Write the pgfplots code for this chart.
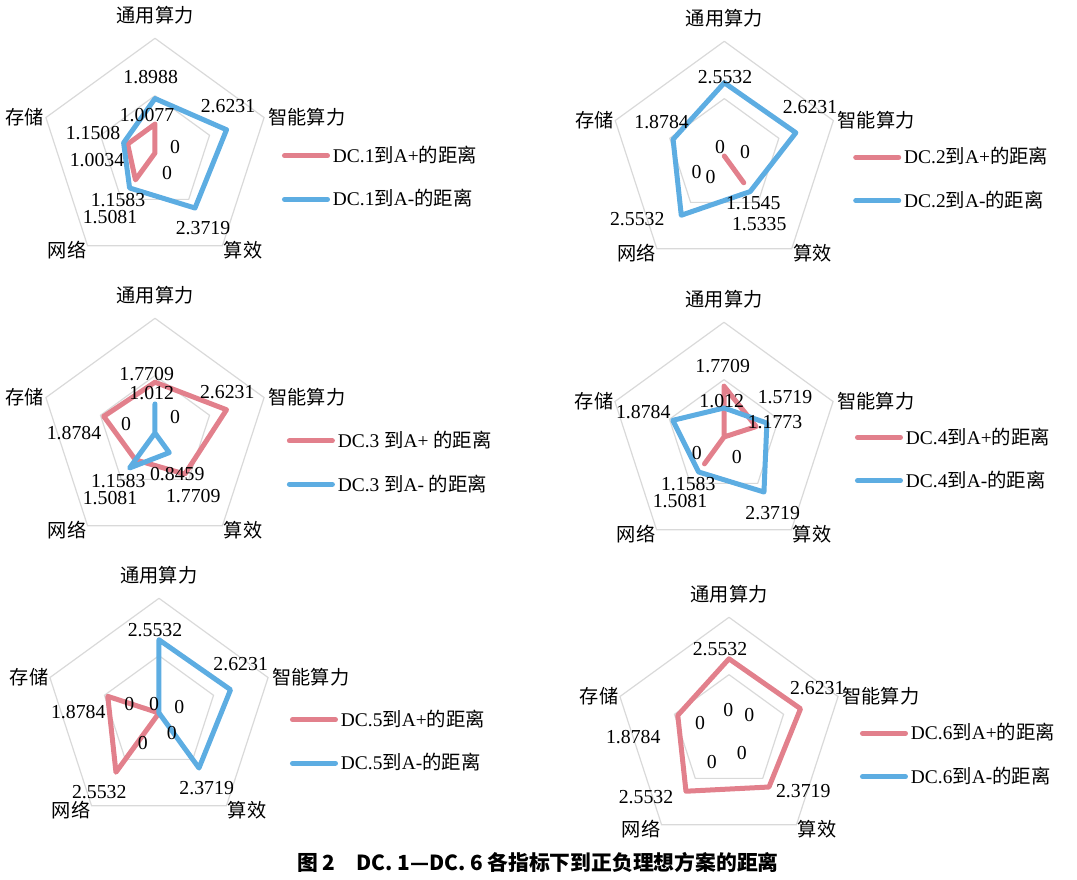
\documentclass[border=0pt]{standalone}
\usepackage{fontspec}
\setmainfont{Liberation Serif}
\newfontfamily\cjk{Noto Sans CJK SC}
\usepackage{pgfplots}
\pgfplotsset{compat=1.18}
\usepgfplotslibrary{polar}
\definecolor{pinkc}{RGB}{226,128,140}
\definecolor{bluec}{RGB}{93,173,226}
\definecolor{gridc}{RGB}{217,217,217}
\newcommand\fs{\fontsize{9.6}{11}\selectfont}
\newcommand\fn{\fontsize{9.9}{11}\selectfont}
\newcommand\fl{\fontsize{9.7}{11}\selectfont}
\newcommand\setc[2]{\def\cx{#1}\def\cy{#2}}
% data label: dx dy (px, y down) text
\newcommand\lab[3]{\node[font=\fn, inner sep=0pt] at ({(\cx+(#1))*0.5},{(879-\cy-(#2))*0.5}) {#3};}
\newcommand\cats{%
  \node[font=\fs\cjk, inner sep=0pt] at ({\cx*0.5},{(879-\cy+138)*0.5}) {通用算力};
  \node[font=\fs\cjk, inner sep=0pt, anchor=west] at ({(\cx+113)*0.5},{(879-\cy+36)*0.5}) {智能算力};
  \node[font=\fs\cjk, inner sep=0pt] at ({(\cx+88)*0.5},{(879-\cy-97)*0.5}) {算效};
  \node[font=\fs\cjk, inner sep=0pt] at ({(\cx-88)*0.5},{(879-\cy-97)*0.5}) {网络};
  \node[font=\fs\cjk, inner sep=0pt] at ({(\cx-130)*0.5},{(879-\cy+36)*0.5}) {存储};
}
\pgfplotsset{
  radar/.style={
    at={({\cx*0.5pt},{(879-\cy)*0.5pt})}, anchor=center,
    scale only axis, width=114.7pt, height=114.7pt,
    ymin=0, ymax=4, xmin=0, xmax=360,
    hide axis, clip=false, xtick=\empty, ytick=\empty,
    legend style={draw=none, fill=none, inner sep=0pt, outer sep=0pt, anchor=west,
      font=\fl, row sep=9pt, nodes={inner sep=1.5pt}},
    legend image code/.code={\draw[##1,line cap=round] (0pt,0pt) -- (21.5pt,0pt);},
    legend cell align=left,
  },
  pk/.style={pinkc, line width=2.5pt, line join=round, line cap=round},
  bl/.style={bluec, line width=2.5pt, line join=round, line cap=round},
  gr/.style={gridc, line width=0.6pt, forget plot},
}
\newcommand\grid{%
  \addplot[gr] coordinates {(90,2) (18,2) (306,2) (234,2) (162,2) (90,2)};
  \addplot[gr] coordinates {(90,4) (18,4) (306,4) (234,4) (162,4) (90,4)};
}
\begin{document}
\begin{tikzpicture}[x=1pt,y=1pt]
\path[use as bounding box] (0,0) rectangle (538.5,439.5);
% ---------------- DC.1
\setc{155}{153}
\begin{polaraxis}[radar, legend style={at={(axis description cs:1.0536,0.393)}}]
\grid
\addplot[pk] coordinates {(90,1.0077) (18,0) (306,0) (234,1.1583) (162,1.0034) (90,1.0077)};
\addplot[bl] coordinates {(90,1.8988) (18,2.6231) (306,2.3719) (234,1.5081) (162,1.1508) (90,1.8988)};
\legend{DC.1{\cjk 到}A+{\cjk 的距离}, DC.1{\cjk 到}A-{\cjk 的距离}}
\end{polaraxis}
\cats
\lab{-4.3}{-75.7}{1.8988}
\lab{73}{-47}{2.6231}
\lab{-8}{-38}{1.0077}
\lab{20}{-6}{0}
\lab{12}{20}{0}
\lab{-62}{-20}{1.1508}
\lab{-58}{7}{1.0034}
\lab{-37}{47}{1.1583}
\lab{-45}{64}{1.5081}
\lab{48}{75}{2.3719}
% ---------------- DC.2
\setc{724.3}{156}
\begin{polaraxis}[radar, legend style={at={(axis description cs:1.062,0.40)}}]
\grid
\addplot[pk] coordinates {(90,0) (18,0) (306,1.1545) (234,0) (162,0) (90,0)};
\addplot[bl] coordinates {(90,2.5532) (18,2.6231) (306,1.5335) (234,2.5532) (162,1.8784) (90,2.5532)};
\legend{DC.2{\cjk 到}A+{\cjk 的距离}, DC.2{\cjk 到}A-{\cjk 的距离}}
\end{polaraxis}
\cats
\lab{0.7}{-78.7}{2.5532}
\lab{85.7}{-48.7}{2.6231}
\lab{-62.7}{-34.3}{1.8784}
\lab{-4.3}{-9.3}{0}
\lab{20.7}{-4.3}{0}
\lab{-27.7}{15.7}{0}
\lab{-13.7}{20.7}{0}
\lab{29}{46.7}{1.1545}
\lab{35}{68}{1.5335}
\lab{-87}{63.3}{2.5532}
% ---------------- DC.3
\setc{155}{433}
\begin{polaraxis}[radar, legend style={at={(axis description cs:1.075,0.371)}}]
\grid
\addplot[pk] coordinates {(90,1.7709) (18,2.6231) (306,1.7709) (234,1.1583) (162,1.8784) (90,1.7709)};
\addplot[bl] coordinates {(90,1.012) (18,0) (306,0.8459) (234,1.5081) (162,0) (90,1.012)};
\legend{DC.3 {\cjk 到}A+ {\cjk 的距离}, DC.3 {\cjk 到}A- {\cjk 的距离}}
\end{polaraxis}
\cats
\lab{-8.3}{-58.7}{1.7709}
\lab{-3.3}{-39.7}{1.012}
\lab{72.3}{-41.3}{2.6231}
\lab{20}{-15.7}{0}
\lab{-29}{-9}{0}
\lab{-81}{-0.3}{1.8784}
\lab{22.3}{41}{0.8459}
\lab{-36.7}{47.7}{1.1583}
\lab{-45}{65.3}{1.5081}
\lab{38.3}{63}{1.7709}
% ---------------- DC.4
\setc{724}{437}
\begin{polaraxis}[radar, legend style={at={(axis description cs:1.071,0.404)}}]
\grid
\addplot[pk] coordinates {(90,1.7709) (18,1.1773) (306,0) (234,1.1583) (162,0) (90,1.7709)};
\addplot[bl] coordinates {(90,1.012) (18,1.5719) (306,2.3719) (234,1.5081) (162,1.8784) (90,1.012)};
\legend{DC.4{\cjk 到}A+{\cjk 的距离}, DC.4{\cjk 到}A-{\cjk 的距离}}
\end{polaraxis}
\cats
\lab{-1.3}{-71}{1.7709}
\lab{-2.3}{-36.3}{1.012}
\lab{61}{-39.7}{1.5719}
\lab{51}{-15.3}{1.1773}
\lab{-80.7}{-25.3}{1.8784}
\lab{-27.3}{15.7}{0}
\lab{12.7}{19.7}{0}
\lab{-35.7}{47}{1.1583}
\lab{-44}{63.7}{1.5081}
\lab{48.7}{76.3}{2.3719}
% ---------------- DC.5
\setc{159}{713}
\begin{polaraxis}[radar, legend style={at={(axis description cs:1.071,0.376)}}]
\grid
\addplot[pk] coordinates {(90,0) (18,0) (306,0) (234,2.5532) (162,1.8784) (90,0)};
\addplot[bl] coordinates {(90,2.5532) (18,2.6231) (306,2.3719) (234,0) (162,0) (90,2.5532)};
\legend{DC.5{\cjk 到}A+{\cjk 的距离}, DC.5{\cjk 到}A-{\cjk 的距离}}
\end{polaraxis}
\cats
\lab{-4}{-83}{2.5532}
\lab{81.7}{-49}{2.6231}
\lab{-29.7}{-9}{0}
\lab{-5}{-9}{0}
\lab{20.3}{-5.7}{0}
\lab{12.7}{20.3}{0}
\lab{-16.3}{29.7}{0}
\lab{-80.7}{-1.3}{1.8784}
\lab{-59.7}{78.7}{2.5532}
\lab{47.7}{75.3}{2.3719}
% ---------------- DC.6
\setc{729}{732}
\begin{polaraxis}[radar, legend style={at={(axis description cs:1.071,0.40)}}]
\grid
\addplot[pk] coordinates {(90,2.5532) (18,2.6231) (306,2.3719) (234,2.5532) (162,1.8784) (90,2.5532)};
\addplot[bl, line cap=butt] coordinates {(90,0) (18,0) (306,0) (234,0) (162,0) (90,0)};
\legend{DC.6{\cjk 到}A+{\cjk 的距离}, DC.6{\cjk 到}A-{\cjk 的距离}}
\end{polaraxis}
\cats
\lab{-9}{-82.7}{2.5532}
\lab{88.3}{-43.7}{2.6231}
\lab{-0.7}{-22}{0}
\lab{20.3}{-17}{0}
\lab{-29}{-9.3}{0}
\lab{12.7}{20.7}{0}
\lab{-17.3}{29.7}{0}
\lab{-95.7}{4.7}{1.8784}
\lab{-83}{64.7}{2.5532}
\lab{74.3}{58.7}{2.3719}
% caption
\node[font=\fontsize{10.4}{12}\selectfont\cjk\bfseries, inner sep=0pt] at (269,8.5) {图 2\quad DC. 1—DC. 6 各指标下到正负理想方案的距离};
\end{tikzpicture}
\end{document}
